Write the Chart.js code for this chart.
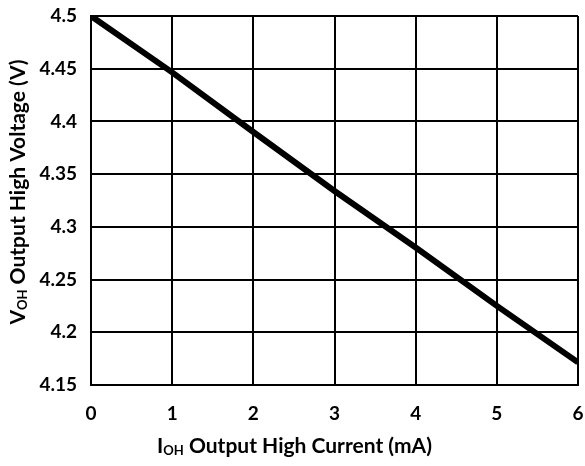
<!DOCTYPE html>
<html>
<head>
<meta charset="utf-8">
<script src="https://cdn.jsdelivr.net/npm/chart.js@4/dist/chart.umd.min.js"></script>
<style>
  html, body { margin: 0; padding: 0; background: #fff; }
  #wrap { width: 585px; height: 466px; }
</style>
</head>
<body>
<div id="wrap"><canvas id="voh-chart"></canvas></div>
<script>
// I_OH (mA) vs V_OH (V)
const currentMA = [0, 1, 2, 3, 4, 5, 6];
const voltageV = [4.5, 4.4465, 4.39, 4.334, 4.2805, 4.225, 4.1715];
const xTicks = [0, 1, 2, 3, 4, 5, 6];
const yTicks = [4.15, 4.2, 4.25, 4.3, 4.35, 4.4, 4.45, 4.5];

const FONT = 'Lato, "Open Sans", sans-serif';

// axis titles with subscripts, drawn on the canvas
function drawSubTitle(ctx, parts, x, y, rotate) {
    ctx.save();
    ctx.translate(x, y);
    if (rotate) ctx.rotate(-Math.PI / 2);
    let total = 0;
    parts.forEach(p => {
        ctx.font = 'bold ' + p.size + 'px ' + FONT;
        total += ctx.measureText(p.text).width;
    });
    let cx = -total / 2;
    ctx.fillStyle = '#000';
    ctx.textBaseline = 'middle';
    parts.forEach(p => {
        ctx.font = 'bold ' + p.size + 'px ' + FONT;
        ctx.fillText(p.text, cx, p.sub ? 5 : 0);
        cx += ctx.measureText(p.text).width;
    });
    ctx.restore();
}

const axisTitles = {
    id: 'axisTitles',
    afterDraw(chart) {
        const { ctx, chartArea } = chart;
        const midX = (chartArea.left + chartArea.right) / 2;
        const midY = (chartArea.top + chartArea.bottom) / 2;
        drawSubTitle(ctx, [
            { text: 'I', size: 21 },
            { text: 'OH', size: 13, sub: true },
            { text: ' Output High Current (mA)', size: 21 }
        ], midX - 40, 446, false);
        drawSubTitle(ctx, [
            { text: 'V', size: 21 },
            { text: 'OH', size: 13, sub: true },
            { text: ' Output High Voltage (V)', size: 21 }
        ], 18, 192, true);
    }
};

new Chart(document.getElementById('voh-chart'), {
    type: 'line',
    data: {
        datasets: [{
            data: currentMA.map((x, i) => ({ x: x, y: voltageV[i] })),
            borderColor: '#000',
            borderWidth: 6,
            pointRadius: 0,
            fill: false,
            tension: 0
        }]
    },
    options: {
        responsive: true,
        maintainAspectRatio: false,
        animation: false,
        layout: { padding: { top: 16, right: 7, left: 0, bottom: 0 } },
        plugins: { legend: { display: false }, tooltip: { enabled: false } },
        scales: {
            x: {
                type: 'linear',
                min: 0,
                max: 6,
                afterBuildTicks: (scale) => { scale.ticks = xTicks.map(v => ({ value: v })); },
                afterFit: (scale) => {
                    scale.height = 81;
                    scale.paddingLeft = 0;
                    scale.paddingRight = 0;
                },
                grid: { color: '#000', lineWidth: 2, drawTicks: false },
                border: { color: '#000', width: 2 },
                ticks: {
                    padding: 17,
                    color: '#000',
                    font: { family: FONT, size: 19, weight: 'bold' }
                }
            },
            y: {
                min: 4.15,
                max: 4.5,
                afterBuildTicks: (scale) => { scale.ticks = yTicks.map(v => ({ value: v })); },
                afterFit: (scale) => {
                    scale.width = 91;
                    scale.paddingTop = 0;
                    scale.paddingBottom = 0;
                },
                grid: { color: '#000', lineWidth: 2, drawTicks: false },
                border: { color: '#000', width: 2 },
                ticks: {
                    padding: 14,
                    color: '#000',
                    font: { family: FONT, size: 19, weight: 'bold' },
                    callback: (v) => String(Number(v.toFixed(2)))
                }
            }
        }
    },
    plugins: [axisTitles]
});
</script>
</body>
</html>
